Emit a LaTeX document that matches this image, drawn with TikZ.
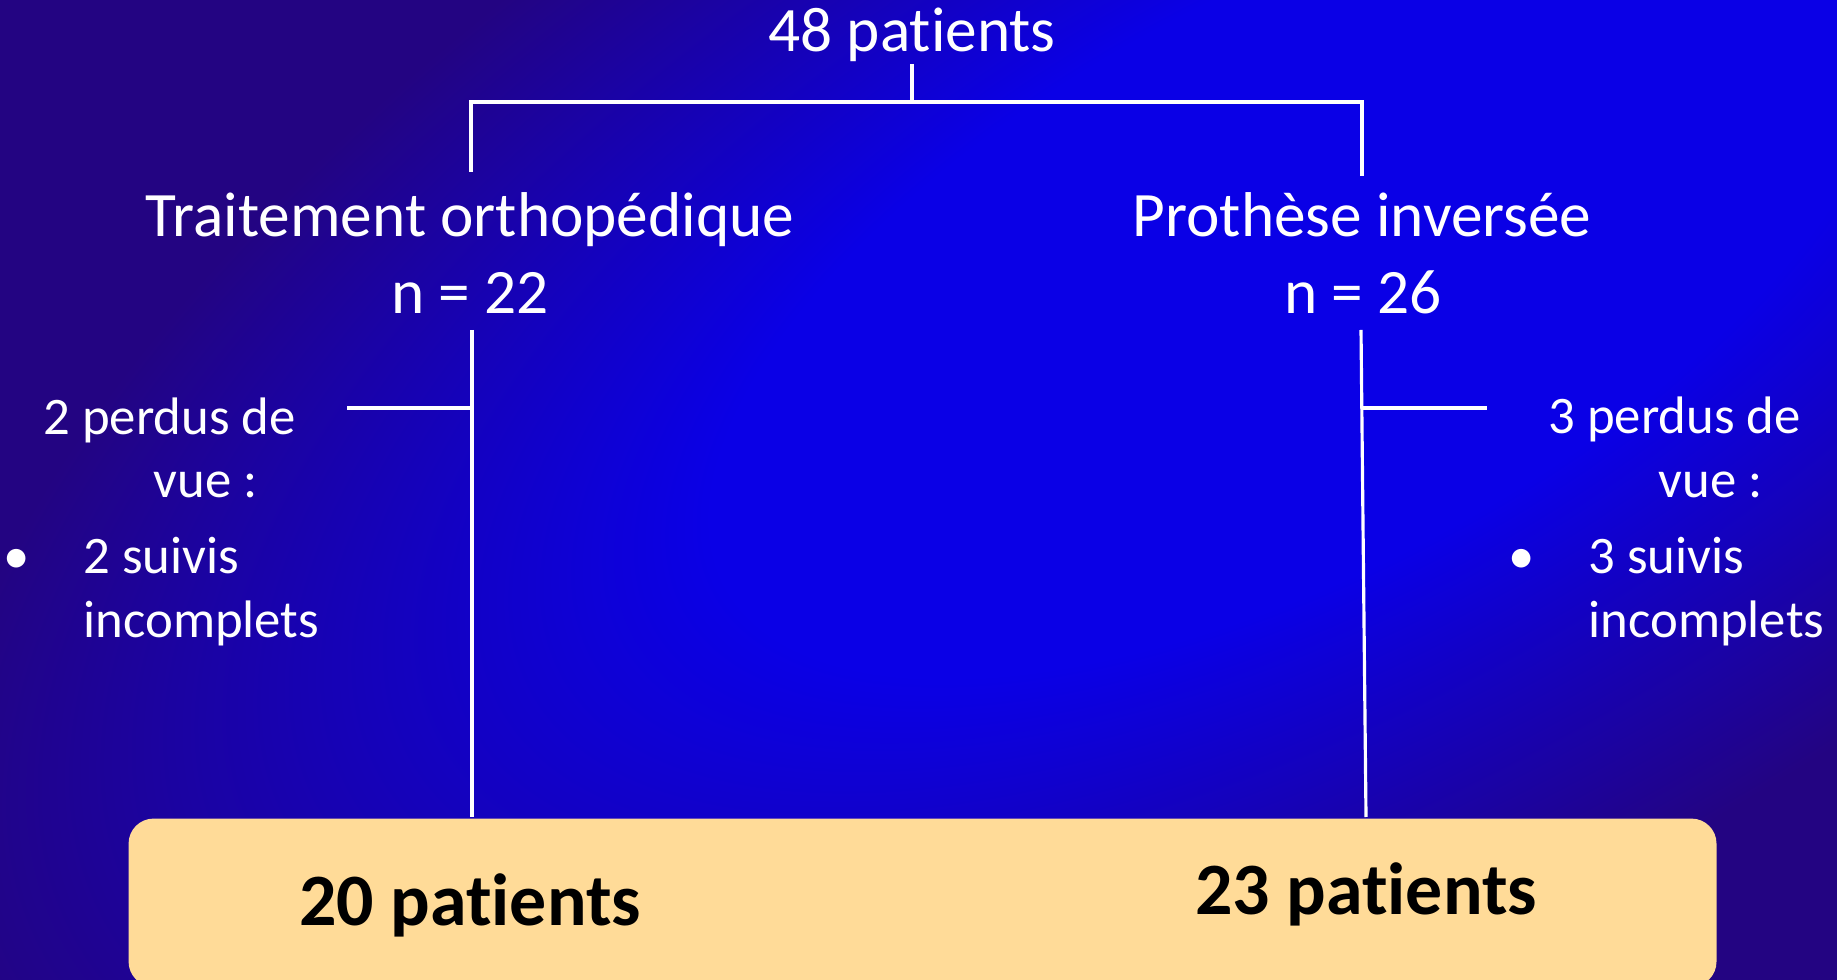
\documentclass[tikz,border=0pt]{standalone}
\usepackage{fontspec}
\setmainfont{Carlito}[Ligatures={NoCommon}]
\usepackage{xcolor}
\usepackage{tikz}
\usetikzlibrary{positioning, calc}
\definecolor{slidedark}{HTML}{230482}
\definecolor{slidebright}{HTML}{0A00E6}
\definecolor{boxsand}{HTML}{FFDB98}
\pgfdeclareradialshading{slideglow}{\pgfpoint{0bp}{0bp}}{color(0bp)=(slidebright); color(9bp)=(slidebright); color(21bp)=(slidedark); color(50bp)=(slidedark)}

\begin{document}
\begin{tikzpicture}[x=0.01cm, y=-0.01cm, white, line width=0.9pt,
  head/.style={font=\fontsize{18}{22}\selectfont, inner sep=0pt, anchor=base},
  side/.style={font=\fontsize{15}{18}\selectfont, inner sep=0pt, anchor=base west},
  res/.style={font=\fontsize{21}{25}\selectfont\bfseries, text=black, inner sep=0pt, anchor=base}]
  \useasboundingbox (0,0) rectangle (1837,980);
  % background
  \begin{scope}
    \clip (0,0) rectangle (1837,980);
    \fill[slidedark] (0,0) rectangle (1837,980);
    \begin{scope}[transform canvas={shift={(1300,280)}, rotate=28}]
      \shade[shading=slideglow] (0,0) ellipse [x radius=18cm, y radius=8cm];
    \end{scope}
  \end{scope}

  % groups
  \node[head] (total) at (912,52) {48 patients};
  \node[head] (trtL) at (470,237) {Traitement orthopédique};
  \node[head] (nL) at (470,314) {n = 22};
  \node[head] (trtR) at (1362,237) {Prothèse inversée};
  \node[head] (nR) at (1363,314) {n = 26};

  % lost to follow-up
  \node[side] (lostL) at (42,435) {2 perdus de};
  \node[side] (vueL) at (152,498) {vue :};
  \node[side, anchor=base] (dotL) at (17,574) {\textbullet};
  \node[side] (suiviL) at (82,574) {2 suivis};
  \node[side] (incL) at (82,638) {incomplets};
  \node[side] (lostR) at (1547,434) {3 perdus de};
  \node[side] (vueR) at (1657,498) {vue :};
  \node[side, anchor=base] (dotR) at (1522,574) {\textbullet};
  \node[side] (suiviR) at (1587,574) {3 suivis};
  \node[side] (incR) at (1587,638) {incomplets};

  % final count
  \node[fill=boxsand, rounded corners=0.25cm, minimum width=15.87cm, minimum height=1.68cm, anchor=north west, inner sep=0pt] (pool) at (127,817) {};
  \node[res] (resL) at (470,925) {20 patients};
  \node[res] (resR) at (1366,914) {23 patients};

  % connectors
  \coordinate (fork) at (912,102);
  \coordinate (dropL) at (471,172);
  \coordinate (dropR) at (1362,176);
  \coordinate (stemL) at (472,330);
  \coordinate (stemR) at (1361,330);
  \coordinate (footR) at (1366,817);
  \coordinate (tapL) at (472,408);
  \coordinate (tapLend) at (347,408);
  \coordinate (tapR) at (1362,408);
  \coordinate (tapRend) at (1487,408);
  \draw (total.south) -- (fork);
  \draw (dropL) |- (fork) -| (dropR);
  \draw (stemL) -- (stemL |- pool.north);
  \draw (stemR) -- (footR);
  \draw (tapL) -- (tapLend);
  \draw (tapR) -- (tapRend);
\end{tikzpicture}
\end{document}
